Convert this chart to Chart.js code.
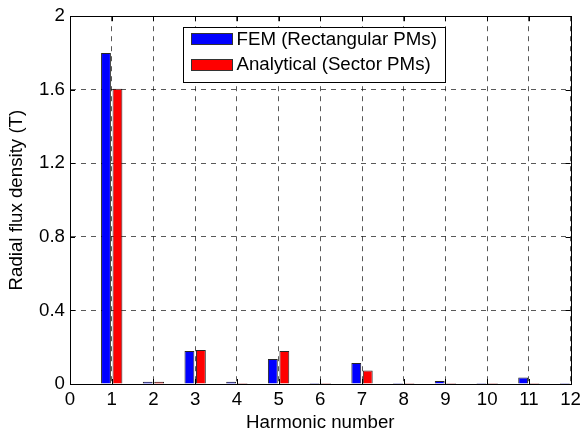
<!DOCTYPE html>
<html>
<head>
<meta charset="utf-8">
<script src="https://cdn.jsdelivr.net/npm/chart.js@4/dist/chart.umd.min.js"></script>
<style>
  html, body { margin: 0; padding: 0; background: #ffffff; }
  #wrap { width: 586px; height: 432px; }
</style>
</head>
<body>
<div id="wrap"><canvas id="c" width="586" height="432"></canvas></div>
<script>
// ---- data ----
const tickLabels = ['0','1','2','3','4','5','6','7','8','9','10','11','12'];
const harmonics = ['1','2','3','4','5','6','7','8','9','10','11','12'];
const femValues = [1.80, 0.012, 0.18, 0.012, 0.136, 0.006, 0.114, 0.005, 0.016, 0.005, 0.036, 0.006];
const analyticalValues = [1.605, 0.012, 0.185, 0.005, 0.18, 0.005, 0.074, 0.005, 0.005, 0.005, 0.005, 0.005];
const seriesNames = ['FEM (Rectangular PMs)', 'Analytical (Sector PMs)'];
const yTicks = [0, 0.4, 0.8, 1.2, 1.6, 2];

const FONT = "'Liberation Sans', Arial, Helvetica, sans-serif";
const FS = 18.7;

const boxPlugin = {
  id: 'matlabBox',
  afterDatasetsDraw(chart) {
    const ctx = chart.ctx;
    const ca = chart.chartArea;
    const xs = chart.scales.x, ys = chart.scales.y;
    ctx.save();
    ctx.strokeStyle = '#000';
    ctx.lineWidth = 1;
    ctx.setLineDash([]);
    // inward ticks
    const tl = 5;
    ctx.beginPath();
    tickLabels.forEach((t, i) => {
      const px = Math.round(xs.getPixelForValue(i)) + 0.5;
      ctx.moveTo(px, ca.bottom); ctx.lineTo(px, ca.bottom - tl);
      ctx.moveTo(px, ca.top); ctx.lineTo(px, ca.top + tl);
    });
    yTicks.forEach(v => {
      const py = Math.round(ys.getPixelForValue(v)) + 0.5;
      ctx.moveTo(ca.left, py); ctx.lineTo(ca.left + tl, py);
      ctx.moveTo(ca.right, py); ctx.lineTo(ca.right - tl, py);
    });
    ctx.stroke();
    // box
    ctx.strokeRect(Math.round(ca.left) + 0.5, Math.round(ca.top) + 0.5,
                   Math.round(ca.right - ca.left), Math.round(ca.bottom - ca.top));
    // legend
    ctx.font = FS + 'px ' + FONT;
    const tw = Math.max(...chart.data.datasets.map(d => ctx.measureText(d.label).width));
    const bx = Math.round(ca.left + 113) + 0.5;
    const by = Math.round(ca.top + 11) + 0.5;
    const bw = Math.round(53 + tw + 9);
    const bh = 55;
    ctx.fillStyle = '#fff';
    ctx.fillRect(bx, by, bw, bh);
    ctx.strokeRect(bx, by, bw, bh);
    chart.data.datasets.forEach((d, i) => {
      const cy = by + 11.3 + i * 25.4;
      ctx.fillStyle = d.backgroundColor;
      ctx.fillRect(bx + 8, Math.round(cy - 5.5), 41, 11);
      ctx.strokeStyle = '#333';
      ctx.strokeRect(bx + 8, Math.round(cy - 5.5) + 0.5, 41, 11);
      ctx.fillStyle = '#000';
      ctx.textAlign = 'left';
      ctx.textBaseline = 'middle';
      ctx.fillText(d.label, bx + 53, cy + 1);
    });
    ctx.restore();
  }
};

new Chart(document.getElementById('c'), {
  type: 'bar',
  data: {
    labels: tickLabels,
    datasets: [
      {
        label: seriesNames[0],
        data: harmonics.map((h, i) => ({ x: h, y: femValues[i] })),
        backgroundColor: '#0000ff',
        borderColor: 'rgba(0,0,0,0.85)',
        borderWidth: 1,
        categoryPercentage: 0.55,
        barPercentage: 0.86
      },
      {
        label: seriesNames[1],
        data: harmonics.map((h, i) => ({ x: h, y: analyticalValues[i] })),
        backgroundColor: '#ff0000',
        borderColor: 'rgba(0,0,0,0.85)',
        borderWidth: 1,
        categoryPercentage: 0.55,
        barPercentage: 0.86
      }
    ]
  },
  options: {
    responsive: false,
    animation: false,
    devicePixelRatio: 1,
    layout: { padding: { top: 16, right: 9, bottom: 0, left: 0 }, autoPadding: false },
    plugins: { legend: { display: false }, tooltip: { enabled: false } },
    scales: {
      x: {
        type: 'category',
        offset: false,
        grid: { offset: false, drawTicks: false, color: 'rgba(0,0,0,0.65)', lineWidth: 1 },
        border: { display: true, color: '#000', width: 1, dash: [5, 5] },
        ticks: { autoSkip: false, maxRotation: 0, minRotation: 0, padding: 5, color: '#000',
                 font: { family: FONT, size: FS } },
        title: { display: true, text: 'Harmonic number', color: '#000',
                 font: { family: FONT, size: FS, lineHeight: 1 }, padding: { top: 0, bottom: 0 } },
        afterFit(scale) { scale.height = 48; }
      },
      y: {
        min: 0, max: 2,
        grid: { drawTicks: false, color: 'rgba(0,0,0,0.65)', lineWidth: 1 },
        border: { display: true, color: '#000', width: 1, dash: [5, 5] },
        afterBuildTicks(scale) { scale.ticks = yTicks.map(v => ({ value: v })); },
        ticks: { padding: 5, color: '#000', font: { family: FONT, size: FS },
                 callback: (v) => String(Number(Number(v).toFixed(1))) },
        title: { display: true, text: 'Radial flux density (T)', color: '#000',
                 font: { family: FONT, size: FS, lineHeight: 1 }, padding: { top: 8, bottom: 0 } },
        afterFit(scale) { scale.width = 70; }
      }
    }
  },
  plugins: [boxPlugin]
});
</script>
</body>
</html>
